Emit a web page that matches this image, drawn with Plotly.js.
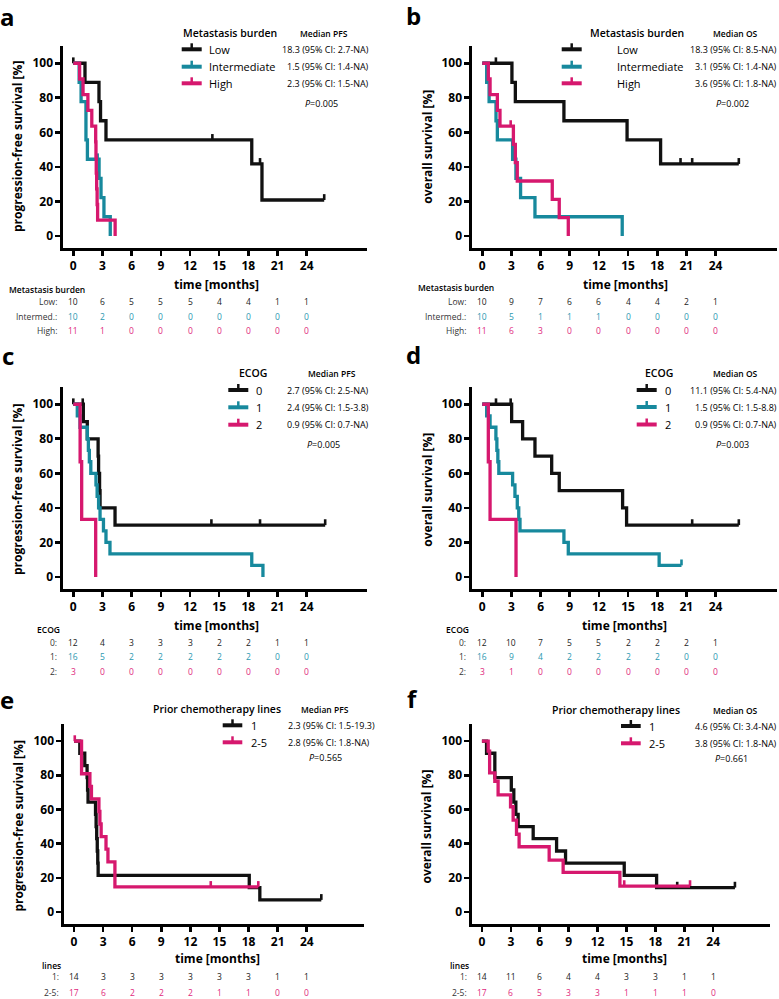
<!DOCTYPE html>
<html><head><meta charset="utf-8">
<script src="https://cdn.plot.ly/plotly-3.0.1.min.js"></script>
<style>html,body{margin:0;padding:0;background:#fff}#chart{width:779px;height:999px}</style>
</head><body><div id="chart"></div>
<script>
// ---------------- data ----------------
const timeTicks=[0,3,6,9,12,15,18,21,24];
const survTicks=[0,20,40,60,80,100];

// a: PFS by metastasis burden
const aNames=['Low','Intermediate','High'];
const aRowLabels=['Low:','Intermed.:','High:'];
const aMedians=['18.3 (95% CI: 2.7-NA)','1.5 (95% CI: 1.4-NA)','2.3 (95% CI: 1.5-NA)'];
const aP='0.005';
const aLowT=[1.2,2.64,2.8,3.36,18.35,19.4,25.8];
const aLowS=[88.9,77.8,66.7,55.6,41.7,20.8,20.8];
const aLowCT=[0,14.3,19.2,25.8];
const aLowCS=[100,55.6,41.7,20.8];
const aIntT=[0.6,0.8,1.3,1.45,2.65,2.85,3.15,3.8];
const aIntS=[88.9,77.8,55.6,44.4,33.3,22.2,11.1,0];
const aIntCT=[2.5];
const aIntCS=[44.4];
const aHighT=[0.65,1.0,1.5,1.9,2.3,2.33,2.36,2.4,2.45,2.5,4.3];
const aHighS=[90.9,81.8,72.7,63.6,54.5,45.5,36.4,27.3,18.2,9.1,0];
const aHighCT=[];
const aHighCS=[];
const aRiskLow=[10,6,5,5,5,4,4,1,1];
const aRiskInt=[10,2,0,0,0,0,0,0,0];
const aRiskHigh=[11,1,0,0,0,0,0,0,0];

// b: OS by metastasis burden
const bMedians=['18.3 (95% CI: 8.5-NA)','3.1 (95% CI: 1.4-NA)','3.6 (95% CI: 1.8-NA)'];
const bP='0.002';
const bLowT=[3.05,3.4,8.4,14.9,18.35,26.4];
const bLowS=[88.9,77.8,66.7,55.6,41.7,41.7];
const bLowCT=[1.4,20.4,21.6,26.4];
const bLowCS=[100,41.7,41.7,41.7];
const bIntT=[0.45,0.7,1.41,1.55,3.12,3.46,3.94,5.42,14.4];
const bIntS=[88.9,77.8,66.7,55.6,44.4,33.3,22.2,11.1,0];
const bIntCT=[];
const bIntCS=[];
const bHighT=[0.62,0.8,1.55,1.82,3.2,3.4,3.6,7.2,7.92,8.85];
const bHighS=[90.9,81.8,72.7,63.6,53.0,42.4,31.8,21.2,10.6,0];
const bHighCT=[2.92];
const bHighCS=[63.6];
const bRiskLow=[10,9,7,6,6,4,4,2,1];
const bRiskInt=[10,5,1,1,1,0,0,0,0];
const bRiskHigh=[11,6,3,0,0,0,0,0,0];

// c: PFS by ECOG
const ecogNames=['0','1','2'];
const ecogRowLabels=['0:','1:','2:'];
const cMedians=['2.7 (95% CI: 2.5-NA)','2.4 (95% CI: 1.5-3.8)','0.9 (95% CI: 0.7-NA)'];
const cP='0.005';
const cE0T=[1.03,1.44,2.55,2.6,2.7,2.75,4.29,25.9];
const cE0S=[90,80,70,60,50,40,30,30];
const cE0CT=[0,0.97,14.2,19.2,25.9];
const cE0CS=[100,100,30,30,30];
const cE1T=[0.41,0.69,1.44,1.55,1.65,1.8,2.33,2.45,2.6,2.75,3.1,3.36,3.77,18.35,19.5];
const cE1S=[93.3,86.7,80,73.3,66.7,60,53.3,46.7,40,33.3,26.7,20,13.3,6.7,0];
const cE1CT=[];
const cE1CS=[];
const cE2T=[0.7,0.86,2.3];
const cE2S=[66.7,33.3,0];
const cE2CT=[];
const cE2CS=[];
const cRisk0=[12,4,3,3,3,2,2,1,1];
const cRisk1=[16,5,2,2,2,2,2,0,0];
const cRisk2=[3,0,0,0,0,0,0,0,0];

// d: OS by ECOG
const dMedians=['11.1 (95% CI: 5.4-NA)','1.5 (95% CI: 1.5-8.8)','0.9 (95% CI: 0.7-NA)'];
const dP='0.003';
const dE0T=[3.02,4.15,5.42,7.14,7.92,14.44,14.85,26.4];
const dE0S=[90,80,70,60,50,40,30,30];
const dE0CT=[1.41,2.92,21.6,26.4];
const dE0CS=[100,100,30,30];
const dE1T=[0.45,0.8,1.4,1.5,1.6,1.7,3.12,3.36,3.6,3.75,3.88,8.4,8.85,18.2,20.5];
const dE1S=[93.3,86.7,80,73.3,66.7,60,53.3,46.7,40,33.3,26.7,20,13.3,6.7,6.7];
const dE1CT=[20.5];
const dE1CS=[6.7];
const dE2T=[0.62,0.8,3.47];
const dE2S=[66.7,33.3,0];
const dE2CT=[];
const dE2CS=[];
const dRisk0=[12,10,7,5,5,2,2,2,1];
const dRisk1=[16,9,4,2,2,2,2,0,0];
const dRisk2=[3,1,0,0,0,0,0,0,0];

// e: PFS by prior chemotherapy lines
const linesNames=['1','2-5'];
const linesRowLabels=['1:','2-5:'];
const eMedians=['2.3 (95% CI: 1.5-19.3)','2.8 (95% CI: 1.8-NA)'];
const eP='0.565';
const eL1T=[0.6,1.11,1.35,1.4,1.45,2.22,2.28,2.34,2.4,2.45,2.49,18.07,19.16,25.5];
const eL1S=[92.9,85.7,78.6,71.4,64.3,57.1,50,42.9,35.7,28.6,21.4,14.3,7.1,7.1];
const eL1CT=[25.5];
const eL1CS=[7.1];
const eL2T=[0.78,1.64,1.8,2.57,2.67,2.8,3.3,3.5,4.22,19.0];
const eL2S=[80.9,73.5,66.2,58.8,51.5,44.1,36.8,29.4,14.7,14.7];
const eL2CT=[0.08,14.1,19.0];
const eL2CS=[100,14.7,14.7];
const eRisk1=[14,3,3,3,3,3,3,1,1];
const eRisk2=[17,6,2,2,2,1,1,0,0];

// f: OS by prior chemotherapy lines
const fMedians=['4.6 (95% CI: 3.4-NA)','3.8 (95% CI: 1.8-NA)'];
const fP='0.661';
const fL1T=[0.48,1.34,3.05,3.31,3.52,3.76,5.32,7.75,8.68,14.77,18.13,26.26];
const fL1S=[92.9,78.6,71.4,64.3,57.1,50,42.9,35.7,28.6,21.4,14.3,14.3];
const fL1CT=[20.27,26.26];
const fL1CS=[14.3,14.3];
const fL2T=[0.65,0.8,1.34,1.68,2.97,3.24,3.59,3.86,6.98,8.43,14.32,21.6];
const fL2S=[94.1,81.4,76.5,68.5,61.6,53.8,45.5,38.2,30.4,23.2,15.2,15.2];
const fL2CT=[14.77,21.6];
const fL2CS=[15.2,15.2];
const fRisk1=[14,11,6,4,4,3,3,1,1];
const fRisk2=[17,6,5,3,3,1,1,1,0];

// ---------------- styling / geometry ----------------
const W=779,H=999;
const FONT='"Open Sans", "DejaVu Sans", sans-serif';
const BLACK='#111111', TEAL='#17899d', PINK='#d6186e';
const RBLACK='#222222', RTEAL='#2a98b0', RPINK='#e0287c';
const px=v=>v/W, py=v=>1-v/H;

function grp(name,rowLabel,median,T,S,CT,CS,risk,color,rcolor){return {name,rowLabel,median,T,S,CT,CS,risk,color,rcolor};}

const panels=[
 {letter:'a',ytitle:'progression-free survival [%]',legTitle:'Metastasis burden',medTitle:'Median PFS',p:aP,riskTitle:'Metastasis burden',
  groups:[grp(aNames[0],aRowLabels[0],aMedians[0],aLowT,aLowS,aLowCT,aLowCS,aRiskLow,BLACK,RBLACK),
          grp(aNames[1],aRowLabels[1],aMedians[1],aIntT,aIntS,aIntCT,aIntCS,aRiskInt,TEAL,RTEAL),
          grp(aNames[2],aRowLabels[2],aMedians[2],aHighT,aHighS,aHighCT,aHighCS,aRiskHigh,PINK,RPINK)],
  g:{dom:[63,367,46,248],xr:[-1.06,30.2],lab:[7,17],yt:[17,147],xt:[216.7,284],
     legT:[181.7,33.3,'left'],medT:[324,33.3],lx:[181.7,201.7],rows:[49.3,66.7,83.3],labX:208.3,
     medX:370,medA:'right',pp:[321.7,103.3],rh:[8.3,289],rlX:58.3,rr:[301,316,331]}},
 {letter:'b',ytitle:'overall survival [%]',legTitle:'Metastasis burden',medTitle:'Median OS',p:bP,riskTitle:'Metastasis burden',
  groups:[grp(aNames[0],aRowLabels[0],bMedians[0],bLowT,bLowS,bLowCT,bLowCS,bRiskLow,BLACK,RBLACK),
          grp(aNames[1],aRowLabels[1],bMedians[1],bIntT,bIntS,bIntCT,bIntCS,bRiskInt,TEAL,RTEAL),
          grp(aNames[2],aRowLabels[2],bMedians[2],bHighT,bHighS,bHighCT,bHighCS,bRiskHigh,PINK,RPINK)],
  g:{dom:[472,777,46,248],xr:[-1.06,30.33],lab:[414,16],yt:[426.7,147],xt:[625,284],
     legT:[589,33.3,'left'],medT:[735,33.3],lx:[561.7,581.7],rows:[49.3,66.7,83.3],labX:616,
     medX:778,medA:'right',pp:[732,103.3],rh:[416.7,288],rlX:466.7,rr:[301,316,330.5]}},
 {letter:'c',ytitle:'progression-free survival [%]',legTitle:'ECOG',medTitle:'Median PFS',p:cP,riskTitle:'ECOG',
  groups:[grp(ecogNames[0],ecogRowLabels[0],cMedians[0],cE0T,cE0S,cE0CT,cE0CS,cRisk0,BLACK,RBLACK),
          grp(ecogNames[1],ecogRowLabels[1],cMedians[1],cE1T,cE1S,cE1CT,cE1CS,cRisk1,TEAL,RTEAL),
          grp(ecogNames[2],ecogRowLabels[2],cMedians[2],cE2T,cE2S,cE2CT,cE2CS,cRisk2,PINK,RPINK)],
  g:{dom:[63,367,387,589],xr:[-1.06,30.2],lab:[8,355],yt:[17,490],xt:[216,625],
     legT:[253.3,373.3,'center'],medT:[331.7,373.3],lx:[228.3,248.3],rows:[390,407.3,424.7],labX:255,
     medX:370,medA:'right',pp:[323.3,444],rh:[36,629.3],rlX:58,rr:[642,656.7,671.7]}},
 {letter:'d',ytitle:'overall survival [%]',legTitle:'ECOG',medTitle:'Median OS',p:dP,riskTitle:'ECOG',
  groups:[grp(ecogNames[0],ecogRowLabels[0],dMedians[0],dE0T,dE0S,dE0CT,dE0CS,dRisk0,BLACK,RBLACK),
          grp(ecogNames[1],ecogRowLabels[1],dMedians[1],dE1T,dE1S,dE1CT,dE1CS,dRisk1,TEAL,RTEAL),
          grp(ecogNames[2],ecogRowLabels[2],dMedians[2],dE2T,dE2S,dE2CT,dE2CS,dRisk2,PINK,RPINK)],
  g:{dom:[472,777,387,589],xr:[-1.06,30.33],lab:[414,354],yt:[426.7,490],xt:[624.8,625],
     legT:[659.3,373.3,'center'],medT:[735,373.3],lx:[636.7,656.7],rows:[390,407,424.5],labX:664,
     medX:778,medA:'right',pp:[732,444],rh:[445,629],rlX:466.7,rr:[642,656.7,671.7]}},
 {letter:'e',ytitle:'progression-free survival [%]',legTitle:'Prior chemotherapy lines',medTitle:'Median PFS',p:eP,riskTitle:'lines',
  groups:[grp(linesNames[0],linesRowLabels[0],eMedians[0],eL1T,eL1S,eL1CT,eL1CS,eRisk1,BLACK,RBLACK),
          grp(linesNames[1],linesRowLabels[1],eMedians[1],eL2T,eL2S,eL2CT,eL2CS,eRisk2,PINK,RPINK)],
  g:{dom:[64,364,724,924],xr:[-1.03,29.9],lab:[7,699],yt:[18,826.5],xt:[217,958.3],
     legT:[152.3,709.3,'left'],medT:[325,709.3],lx:[222.7,242.3],rows:[725.3,742.3],labX:250,
     medX:287.3,medA:'left',pp:[325,757.7],rh:[40.7,965.7],rlX:60,rr:[976.7,992.3]}},
 {letter:'f',ytitle:'overall survival [%]',legTitle:'Prior chemotherapy lines',medTitle:'Median OS',p:fP,riskTitle:'lines',
  groups:[grp(linesNames[0],linesRowLabels[0],fMedians[0],fL1T,fL1S,fL1CT,fL1CS,fRisk1,BLACK,RBLACK),
          grp(linesNames[1],linesRowLabels[1],fMedians[1],fL2T,fL2S,fL2CT,fL2CS,fRisk2,PINK,RPINK)],
  g:{dom:[472,770,724,924],xr:[-1.03,29.9],lab:[412,698],yt:[426.7,826.8],xt:[624,958.3],
     legT:[551,710,'left'],medT:[735,710],lx:[621,640.7],rows:[726,743.3],labX:648.3,
     medX:778,medA:'right',pp:[731.7,758.3],rh:[449,965.7],rlX:468.3,rr:[976.7,992.3]}}
];

function txt(text,x,y,anchor,f,extra){
  return Object.assign({xref:'paper',yref:'paper',x:px(x),y:py(y),text:text,showarrow:false,
    xanchor:anchor,yanchor:'middle',borderpad:0,
    font:Object.assign({family:FONT,size:10,color:'#000'},f)},extra||{});
}

const axisBase={showline:true,linewidth:2.6,linecolor:'#000',ticks:'outside',ticklen:5,tickwidth:2.6,
  tickcolor:'#000',showgrid:false,zeroline:false,fixedrange:true,
  tickfont:{family:FONT,size:12,weight:700,color:'#000'}};

const traces=[],shapes=[],annotations=[];
const layout={width:W,height:H,margin:{l:0,r:0,t:0,b:0},paper_bgcolor:'#fff',plot_bgcolor:'rgba(0,0,0,0)',
  showlegend:false,font:{family:FONT}};

panels.forEach((P,i)=>{
  const sfx=i===0?'':String(i+1);
  const xa='x'+sfx, ya='y'+sfx;
  const g=P.g;
  layout['xaxis'+sfx]=Object.assign({},axisBase,{domain:[px(g.dom[0]),px(g.dom[1])],range:g.xr,anchor:ya,
    tickvals:timeTicks,ticktext:timeTicks.map(String)});
  layout['yaxis'+sfx]=Object.assign({},axisBase,{domain:[py(g.dom[3]),py(g.dom[2])],range:[-7,110],anchor:xa,
    tickvals:survTicks,ticktext:survTicks.map(String)});

  P.groups.forEach((G,k)=>{
    traces.push({type:'scatter',mode:'lines',x:[0].concat(G.T),y:[100].concat(G.S),xaxis:xa,yaxis:ya,
      line:{shape:'hv',color:G.color,width:3.3},hoverinfo:'skip'});
    if(G.CT.length){
      traces.push({type:'scatter',mode:'markers',x:G.CT,y:G.CS,xaxis:xa,yaxis:ya,
        marker:{size:2,color:G.color,opacity:0},cliponaxis:false,
        error_y:{type:'data',symmetric:false,array:G.CT.map(()=>3.4),arrayminus:G.CT.map(()=>0),
          width:0,thickness:2.6,color:G.color},hoverinfo:'skip'});
    }
    const yR=g.rows[k];
    shapes.push({type:'line',xref:'paper',yref:'paper',x0:px(g.lx[0]),x1:px(g.lx[1]),y0:py(yR),y1:py(yR),
      line:{color:G.color,width:4}});
    const xc=(g.lx[0]+g.lx[1])/2;
    shapes.push({type:'line',xref:'paper',yref:'paper',x0:px(xc),x1:px(xc),y0:py(yR),y1:py(yR-6),
      line:{color:G.color,width:2.5}});
    annotations.push(txt(G.name,g.labX,yR,'left',{size:11}));
    annotations.push(txt(G.median,g.medX,yR,g.medA,{size:9}));
    annotations.push(txt(G.rowLabel,g.rlX,g.rr[k],'right',{size:8.5,color:'#333'}));
    G.risk.forEach((n,j)=>{
      annotations.push({xref:xa,yref:'paper',x:timeTicks[j],y:py(g.rr[k]),text:String(n),showarrow:false,
        xanchor:'center',yanchor:'middle',borderpad:0,font:{family:FONT,size:8.5,color:G.rcolor}});
    });
  });

  annotations.push(txt(P.letter,g.lab[0],g.lab[1],'center',{size:24,weight:700}));
  annotations.push(txt(P.ytitle,g.yt[0],g.yt[1],'center',{size:12,weight:700},{textangle:-90}));
  annotations.push(txt('time [months]',g.xt[0],g.xt[1],'center',{size:12,weight:700}));
  annotations.push(txt(P.legTitle,g.legT[0],g.legT[1],g.legT[2],{size:10.5,weight:600}));
  annotations.push(txt(P.medTitle,g.medT[0],g.medT[1],'center',{size:8.5,weight:600}));
  annotations.push(txt('<i>P</i>='+P.p,g.pp[0],g.pp[1],'center',{size:9}));
  annotations.push(txt(P.riskTitle,g.rh[0],g.rh[1],'left',{size:8.5,weight:600}));
});

layout.shapes=shapes;
layout.annotations=annotations;
Plotly.newPlot('chart',traces,layout,{staticPlot:true,displayModeBar:false});
</script>
</body></html>
